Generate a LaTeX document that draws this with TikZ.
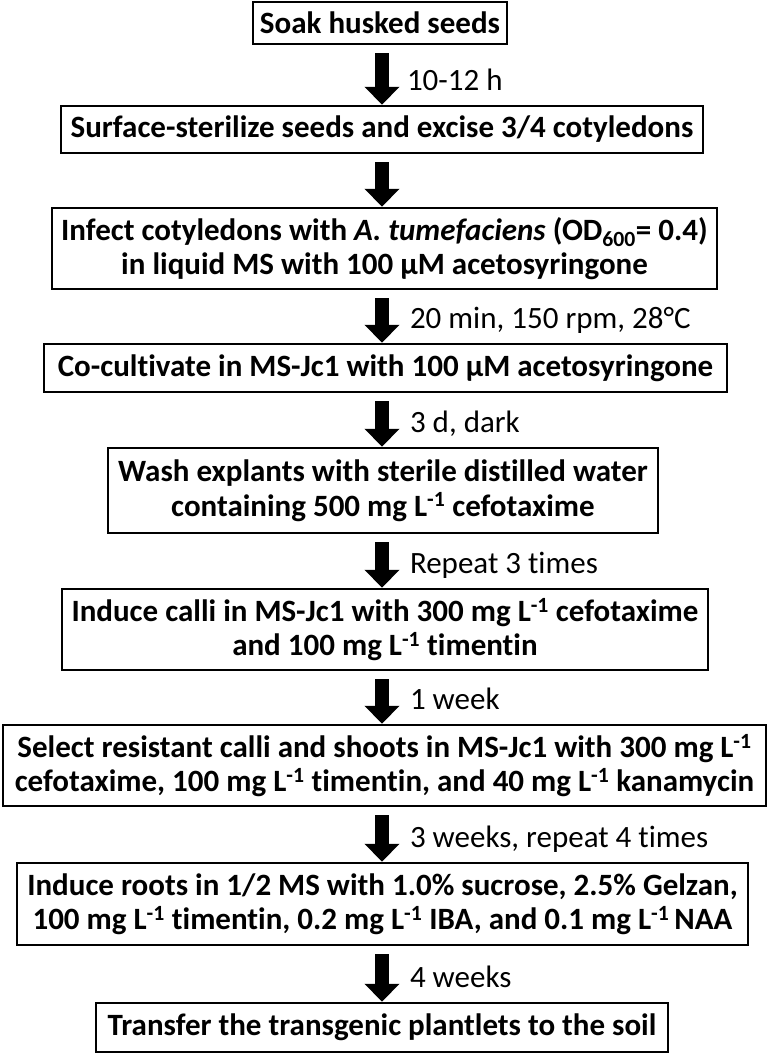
\documentclass[tikz,border=0pt]{standalone}
\usepackage{fontspec}
\setmainfont{Carlito}[Ligatures={NoCommon}]
\usetikzlibrary{arrows.meta}
\tikzset{
  stepbox/.style={draw, line width=2.5pt, inner sep=0pt, align=center,
    font=\bfseries\fontsize{31}{34.5}\selectfont},
  lbl/.style={font=\fontsize{31}{34}\selectfont, inner sep=0pt, anchor=base west},
  flow/.style={line width=14pt, -{Triangle[width=34pt,length=18pt]}, shorten <=8pt}
}
\newcommand{\inv}{\textsuperscript{-1}}
\begin{document}
\begin{tikzpicture}[x=1pt,y=-1pt]
\useasboundingbox (0,0) rectangle (770,1058);
\coordinate (ax) at (382,0);
\node[stepbox, minimum width=254pt, minimum height=42pt] (b1) at (380,23) {Soak husked seeds};
\node[stepbox, minimum width=642pt, minimum height=47pt] (b2) at (382,129.5) {Surface-sterilize seeds and excise 3/4 cotyledons};
\node[stepbox, minimum width=665pt, minimum height=81pt] (b3) at (384.5,248.5) {Infect cotyledons with \textit{A. tumefaciens} (OD\textsubscript{600}= 0.4)\\in liquid MS with 100 µM acetosyringone};
\node[stepbox, minimum width=683pt, minimum height=48pt] (b4) at (385.5,368) {Co-cultivate in MS-Jc1 with 100 µM acetosyringone};
\node[stepbox, minimum width=550pt, minimum height=85pt] (b5) at (383,490.5) {Wash explants with sterile distilled water\\containing 500 mg L\inv{} cefotaxime};
\node[stepbox, minimum width=646pt, minimum height=81pt] (b6) at (385,629.5) {Induce calli in MS-Jc1 with 300 mg L\inv{} cefotaxime\\and 100 mg L\inv{} timentin};
\node[stepbox, minimum width=763pt, minimum height=81pt] (b7) at (384.5,765.5) {Select resistant calli and shoots in MS-Jc1 with 300 mg L\inv\\cefotaxime, 100 mg L\inv{} timentin, and 40 mg L\inv{} kanamycin};
\node[stepbox, minimum width=731pt, minimum height=82pt] (b8) at (382.5,904) {Induce roots in 1/2 MS with 1.0\% sucrose, 2.5\% Gelzan,\\100 mg L\inv{} timentin, 0.2 mg L\inv{} IBA, and 0.1 mg L\inv\,NAA};
\node[stepbox, minimum width=572pt, minimum height=49pt] (b9) at (382,1027.5) {Transfer the transgenic plantlets to the soil};

\draw[flow] (b1.south -| ax) -- (b2.north -| ax) node[lbl, pos=1, xshift=18pt, yshift=14pt] (l1) {10-12 h};
\draw[flow] (b2.south -| ax) -- (b3.north -| ax);
\draw[flow] (b3.south -| ax) -- (b4.north -| ax) node[lbl, pos=1, xshift=21pt, yshift=14pt] (l3) {20 min, 150 rpm, 28°C};
\draw[flow] (b4.south -| ax) -- (b5.north -| ax) node[lbl, pos=1, xshift=21pt, yshift=14pt] (l4) {3 d, dark};
\draw[flow] (b5.south -| ax) -- (b6.north -| ax) node[lbl, pos=1, xshift=21pt, yshift=14pt] (l5) {Repeat 3 times};
\draw[flow] (b6.south -| ax) -- (b7.north -| ax) node[lbl, pos=1, xshift=21pt, yshift=14pt] (l6) {1 week};
\draw[flow] (b7.south -| ax) -- (b8.north -| ax) node[lbl, pos=1, xshift=21pt, yshift=14pt] (l7) {3 weeks, repeat 4 times};
\draw[flow] (b8.south -| ax) -- (b9.north -| ax) node[lbl, pos=1, xshift=21pt, yshift=14pt] (l8) {4 weeks};
\end{tikzpicture}
\end{document}
